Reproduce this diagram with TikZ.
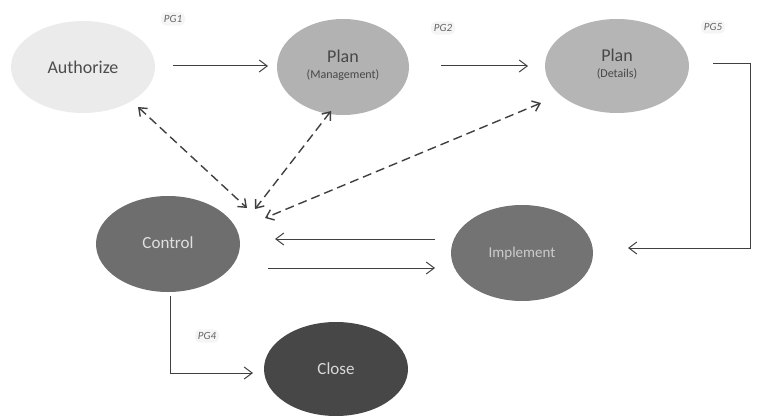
\documentclass[tikz,border=0pt]{standalone}
\usepackage{fontspec}
\setmainfont{Carlito}
\usetikzlibrary{arrows.meta}
\begin{document}
\begin{tikzpicture}[x=1pt,y=-1pt,
  conn/.style={draw=black!75,line width=1pt,-{Straight Barb[length=8pt,width=12pt]}},
  dconn/.style={draw=black!75,line width=1.4pt,dash pattern=on 9pt off 5pt,{Straight Barb[length=7pt,width=11pt]}-{Straight Barb[length=7pt,width=11pt]}},
  pglabel/.style={font=\fontsize{11}{12}\selectfont\itshape,text=black!60,fill=black!4,rounded corners=5pt,inner sep=3pt}]
\useasboundingbox (0,0) rectangle (760,417);
% ellipses
\fill[black!8] (83,67) ellipse [x radius=72, y radius=46];
\fill[black!30] (343,67) ellipse [x radius=66, y radius=48];
\fill[black!29] (617,66) ellipse [x radius=72, y radius=47];
\fill[black!57] (168,244) ellipse [x radius=72, y radius=48];
\fill[black!55] (522,253) ellipse [x radius=71, y radius=48];
\fill[black!72] (336,369) ellipse [x radius=72, y radius=47];
% text nodes
\node[text=black!70,font=\fontsize{18}{20}\selectfont] (auth) at (83,67) {Authorize};
\node[text=black!72,align=center,font=\fontsize{18}{18}\selectfont] (planm) at (343,65) {Plan\\[-2pt]{\fontsize{12}{13}\selectfont(Management)}};
\node[text=black!72,align=center,font=\fontsize{18}{18}\selectfont] (pland) at (617,64) {Plan\\[-2pt]{\fontsize{12}{13}\selectfont(Details)}};
\node[text=black!12,font=\fontsize{17}{19}\selectfont] (ctrl) at (168,243) {Control};
\node[text=black!20,font=\fontsize{15}{17}\selectfont] (impl) at (522,253) {Implement};
\node[text=black!15,font=\fontsize{17}{19}\selectfont] (close) at (336,369) {Close};
% labels
\node[pglabel] (pg1) at (173,19) {PG1};
\node[pglabel] (pg2) at (443,28) {PG2};
\node[pglabel] (pg5) at (713,27) {PG5};
\node[pglabel] (pg4) at (207,336) {PG4};
% anchor coordinates
\coordinate (a1) at (173,66); \coordinate (a2) at (268,66);
\coordinate (b1) at (441,66); \coordinate (b2) at (528,66);
\coordinate (c1) at (713,64); \coordinate (c2) at (750,64); \coordinate (c3) at (750,248); \coordinate (c4) at (628,248);
\coordinate (i1) at (435,239); \coordinate (i2) at (275,239);
\coordinate (k1) at (268,268); \coordinate (k2) at (435,268);
\coordinate (l1) at (170,296); \coordinate (l2) at (170,373); \coordinate (l3) at (253,373);
\coordinate (d1a) at (138,107); \coordinate (d1b) at (247,208);
\coordinate (d2a) at (331,111); \coordinate (d2b) at (255,209);
\coordinate (d3a) at (541,103); \coordinate (d3b) at (265,218);
% connectors
\draw[conn] (a1) -- (a2);
\draw[conn] (b1) -- (b2);
\draw[conn] (c1) -- (c2) -- (c3) -- (c4);
\draw[conn] (i1) -- (i2);
\draw[conn] (k1) -- (k2);
\draw[conn] (l1) -- (l2) -- (l3);
\draw[dconn] (d1a) -- (d1b);
\draw[dconn] (d2a) -- (d2b);
\draw[dconn] (d3a) -- (d3b);
\end{tikzpicture}
\end{document}
